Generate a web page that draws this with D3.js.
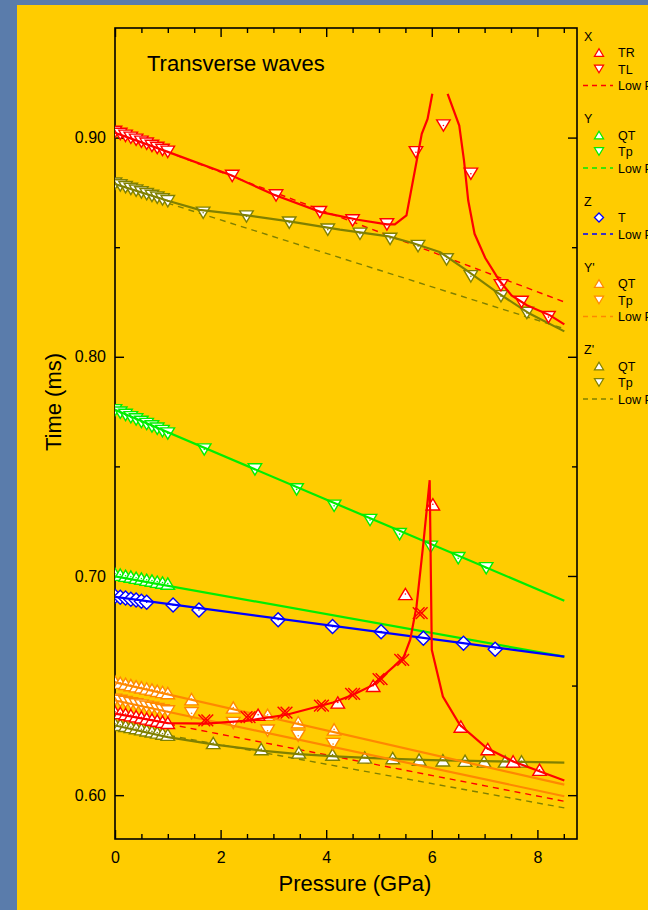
<!DOCTYPE html>
<html>
<head>
<meta charset="utf-8">
<title>Transverse waves</title>
<style>
body { margin:0; background:#5a7cab; }
svg { display:block; font-family:"Liberation Sans", Arial, sans-serif; }
.axis path { display:none; }
.axis line { stroke:#000; stroke-width:1.4; }
.axis text { font-size:16px; fill:#000; font-family:"Liberation Sans", Arial, sans-serif; }
</style>
</head>
<body>
<script src="https://cdn.jsdelivr.net/npm/d3@7"></script>
<script>

// ---- data (pressure GPa, time ms) ----
var pDense = [0, 0.1, 0.2, 0.3, 0.4, 0.5, 0.6, 0.7, 0.8, 0.9, 1.0];

// X
var xTLp = pDense.concat([2.22, 3.05, 3.88, 4.50, 5.15, 5.70, 6.22, 6.74, 7.31, 7.70, 8.21]);
var xTLt = [0.9026, 0.9017, 0.9008, 0.8999, 0.8990, 0.8981, 0.8972, 0.8962, 0.8953, 0.8944, 0.8935, 0.8825, 0.8736, 0.8660, 0.8622, 0.8604, 0.8933, 0.9055, 0.8835, 0.8326, 0.8250, 0.8181];
var xTLfitP = [0, 1.0, 2.2, 3.0, 3.9, 4.6, 5.15, 5.3, 5.52, 5.81, 5.92, 6.01, null, 6.30, 6.52, 6.61, 6.69, 6.81, 7.01, 7.28, 7.51, 7.80, 8.24, 8.51];
var xTLfitT = [0.9022, 0.8935, 0.8828, 0.8740, 0.8660, 0.8625, 0.8604, 0.8604, 0.8645, 0.9017, 0.9085, 0.9200, null, 0.9200, 0.9055, 0.8895, 0.8713, 0.8561, 0.8452, 0.8348, 0.8280, 0.8235, 0.8189, 0.8148];
var xTLlowP = [0, 8.51];
var xTLlowT = [0.9025, 0.8250];

var xTRp = pDense.concat([2.71, 4.22, 4.89, 5.50, 6.02, 6.55, 7.06, 7.54, 8.04]);
var xTRt = [0.6380, 0.6375, 0.6370, 0.6365, 0.6360, 0.6355, 0.6350, 0.6345, 0.6340, 0.6335, 0.6330, 0.6367, 0.6423, 0.6499, 0.6918, 0.7327, 0.6313, 0.6210, 0.6154, 0.6116];
var xTRcrossP = [1.72, 2.52, 3.22, 3.91, 4.50, 5.02, 5.43, 5.78];
var xTRcrossT = [0.6341, 0.6356, 0.6377, 0.6408, 0.6462, 0.6529, 0.6617, 0.6830];
var xTRfitP = [0, 1.0, 1.72, 2.52, 3.25, 4.13, 4.51, 4.89, 5.46, 5.59, 5.71, 5.84, 5.96, 6.0, 6.21, 6.53, 7.04, 7.54, 8.05, 8.51];
var xTRfitT = [0.6372, 0.6329, 0.6326, 0.6340, 0.6367, 0.6423, 0.6458, 0.6503, 0.6625, 0.6708, 0.6860, 0.7149, 0.7437, 0.6663, 0.6450, 0.6321, 0.6215, 0.6154, 0.6108, 0.6067];
var xTRlowP = [0, 8.51];
var xTRlowT = [0.6372, 0.5972];

// Y
var yQTp = pDense;
var yQTt = [0.7010, 0.7006, 0.7001, 0.6997, 0.6992, 0.6988, 0.6983, 0.6979, 0.6974, 0.6970, 0.6965];
var yQTfitP = [0, 8.51];
var yQTfitT = [0.6998, 0.6632];
var yTpP = pDense.concat([1.69, 2.65, 3.44, 4.15, 4.83, 5.39, 5.98, 6.50, 7.03]);
var yTpT = [0.7756, 0.7745, 0.7735, 0.7724, 0.7714, 0.7703, 0.7693, 0.7682, 0.7672, 0.7661, 0.7650, 0.7577, 0.7486, 0.7395, 0.7320, 0.7255, 0.7191, 0.7133, 0.7081, 0.7035];
var yTpFitP = [0, 8.51];
var yTpFitT = [0.7758, 0.6887];

// Z
var zTp = [0, 0.1, 0.2, 0.3, 0.4, 0.5, 0.6, 1.10, 1.59, 3.09, 4.12, 5.04, 5.84, 6.60, 7.20];
var zTt = [0.6908, 0.6903, 0.6899, 0.6894, 0.6890, 0.6885, 0.6880, 0.6868, 0.6845, 0.6800, 0.6769, 0.6746, 0.6716, 0.6693, 0.6666];
var zTfitP = [0, 8.51];
var zTfitT = [0.6905, 0.6632];

// Y'
var ypQTp = pDense.concat([1.45, 2.24, 2.89, 3.47, 4.15]);
var ypQTt = [0.6518, 0.6513, 0.6508, 0.6502, 0.6497, 0.6492, 0.6487, 0.6482, 0.6476, 0.6471, 0.6466, 0.6438, 0.6400, 0.6367, 0.6333, 0.6300];
var ypQTfitP = [0, 8.51];
var ypQTfitT = [0.6515, 0.6048];
var ypTpP = pDense.concat([1.45, 2.24, 2.89, 3.47, 4.13]);
var ypTpT = [0.6435, 0.6430, 0.6425, 0.6419, 0.6414, 0.6409, 0.6403, 0.6398, 0.6393, 0.6387, 0.6382, 0.6374, 0.6329, 0.6294, 0.6271, 0.6233];
var ypTpFitP = [0, 8.51];
var ypTpFitT = [0.6432, 0.5995];

// Z'
var zpQTp = pDense.concat([1.86, 2.77, 3.48, 4.12, 4.73, 5.26, 5.76, 6.21, 6.63, 6.99, 7.39, 7.70]);
var zpQTt = [0.6326, 0.6321, 0.6316, 0.6311, 0.6306, 0.6301, 0.6296, 0.6291, 0.6286, 0.6281, 0.6276, 0.6238, 0.6210, 0.6195, 0.6185, 0.6172, 0.6169, 0.6162, 0.6159, 0.6157, 0.6154, 0.6154, 0.6154];
var zpQTfitP = [0, 1.0, 1.86, 2.77, 3.48, 4.26, 5.0, 6.0, 7.0, 8.51];
var zpQTfitT = [0.6318, 0.6265, 0.6232, 0.6203, 0.6187, 0.6176, 0.6168, 0.6160, 0.6155, 0.6148];
var zpQTlowP = [0, 8.51];
var zpQTlowT = [0.6318, 0.5942];
var zpTpP = pDense.concat([1.67, 2.49, 3.30, 4.03, 4.64, 5.21, 5.74, 6.28, 6.74, 7.31, 7.80]);
var zpTpT = [0.8790, 0.8782, 0.8774, 0.8766, 0.8758, 0.8750, 0.8742, 0.8734, 0.8726, 0.8718, 0.8710, 0.8657, 0.8640, 0.8612, 0.8580, 0.8561, 0.8538, 0.8505, 0.8444, 0.8367, 0.8276, 0.8200];
var zpTpFitP = [0, 1.0, 1.6, 2.5, 3.3, 4.26, 5.18, 5.65, 6.16, 6.66, 7.23, 7.85, 8.51];
var zpTpFitT = [0.8788, 0.8712, 0.8670, 0.8645, 0.8618, 0.8580, 0.8549, 0.8518, 0.8477, 0.8394, 0.8295, 0.8197, 0.8116];
var zpTpLowP = [0, 8.51];
var zpTpLowT = [0.8777, 0.8128];

// axis ticks
var xTicks = [0, 2, 4, 6, 8];
var yTicks = [0.60, 0.70, 0.80, 0.90];

var red = "#ff0000", green = "#00ee00", blue = "#0000ff", orange = "#ff8800", olive = "#808000";

// legend rows: [kind, colour, label]
var legendRows = [
  ["head", null, "X"], ["up", red, "TR"], ["down", red, "TL"], ["dash", red, "Low P"], null,
  ["head", null, "Y"], ["up", green, "QT"], ["down", green, "Tp"], ["dash", green, "Low P"], null,
  ["head", null, "Z"], ["diamond", blue, "T"], ["dash", blue, "Low P"], null,
  ["head", null, "Y'"], ["up", orange, "QT"], ["down", orange, "Tp"], ["dash", orange, "Low P"], null,
  ["head", null, "Z'"], ["up", olive, "QT"], ["down", olive, "Tp"], ["dash", olive, "Low P"]
];

function zip(a, b) { return a.map(function(v, i) { return [v, b[i]]; }); }

// ---- layout ----
var W = 648, H = 910;
var pl = 115, pr = 577, pt = 28, pb = 839; // plot frame

var xScale = d3.scaleLinear().domain([0, 8.75]).range([pl, pr]);
var yScale = d3.scaleLinear().domain([0.58, 0.95]).range([pb, pt]);

var svg = d3.select("body").append("svg").attr("width", W).attr("height", H);

svg.append("rect").attr("x", 0).attr("y", 0).attr("width", W).attr("height", H).attr("fill", "#5a7cab");
svg.append("rect").attr("x", 17).attr("y", 5).attr("width", W - 17).attr("height", H - 5).attr("fill", "#ffcc00");

svg.append("clipPath").attr("id", "plotclip")
  .append("rect").attr("x", pl).attr("y", pt).attr("width", pr - pl).attr("height", pb - pt);

// ---- axes ----
var minorX = d3.range(0.5, 8.75, 0.5).filter(function(d) { return d % 2 !== 0; });
var minorY = [0.65, 0.75, 0.85];

svg.append("g").attr("class", "axis").attr("transform", "translate(0," + pb + ")")
  .call(d3.axisBottom(xScale).tickValues(xTicks).tickSizeInner(-9).tickSizeOuter(0).tickPadding(13).tickFormat(d3.format("d")));
svg.append("g").attr("class", "axis").attr("transform", "translate(0," + pb + ")")
  .call(d3.axisBottom(xScale).tickValues(minorX).tickSizeInner(-5).tickSizeOuter(0).tickFormat(""));
svg.append("g").attr("class", "axis").attr("transform", "translate(0," + pt + ")")
  .call(d3.axisTop(xScale).tickValues(xTicks).tickSizeInner(-9).tickSizeOuter(0).tickFormat(""));
svg.append("g").attr("class", "axis").attr("transform", "translate(0," + pt + ")")
  .call(d3.axisTop(xScale).tickValues(minorX).tickSizeInner(-5).tickSizeOuter(0).tickFormat(""));

svg.append("g").attr("class", "axis").attr("transform", "translate(" + pl + ",0)")
  .call(d3.axisLeft(yScale).tickValues(yTicks).tickSizeInner(-9).tickSizeOuter(0).tickPadding(9).tickFormat(d3.format(".2f")));
svg.append("g").attr("class", "axis").attr("transform", "translate(" + pl + ",0)")
  .call(d3.axisLeft(yScale).tickValues(minorY).tickSizeInner(-5).tickSizeOuter(0).tickFormat(""));
svg.append("g").attr("class", "axis").attr("transform", "translate(" + pr + ",0)")
  .call(d3.axisRight(yScale).tickValues(yTicks).tickSizeInner(-9).tickSizeOuter(0).tickFormat(""));
svg.append("g").attr("class", "axis").attr("transform", "translate(" + pr + ",0)")
  .call(d3.axisRight(yScale).tickValues(minorY).tickSizeInner(-5).tickSizeOuter(0).tickFormat(""));

svg.append("rect").attr("x", pl).attr("y", pt).attr("width", pr - pl).attr("height", pb - pt)
  .attr("fill", "none").attr("stroke", "#000").attr("stroke-width", 1.6);

// ---- marks ----
var plot = svg.append("g").attr("clip-path", "url(#plotclip)");

var line = d3.line()
  .defined(function(d) { return d[0] != null && d[1] != null; })
  .x(function(d) { return xScale(d[0]); })
  .y(function(d) { return yScale(d[1]); });

// s = symbol width in px
function symbolPath(kind, s) {
  var w = s / 2, h = s * 0.42;
  if (kind == "up") return "M0," + (-h) + "L" + w + "," + h + "L" + (-w) + "," + h + "Z";
  if (kind == "down") return "M0," + h + "L" + w + "," + (-h) + "L" + (-w) + "," + (-h) + "Z";
  if (kind == "diamond") return "M0," + (-w) + "L" + w + ",0L0," + w + "L" + (-w) + ",0Z";
  if (kind == "cross") {
    var a = s * 0.42, b = s * 0.42, o = 1.5;
    return "M" + (-a - o) + "," + (-b) + "L" + (a - o) + "," + b + "M" + (-a - o) + "," + b + "L" + (a - o) + "," + (-b) +
           "M" + (-a + o) + "," + (-b) + "L" + (a + o) + "," + b + "M" + (-a + o) + "," + b + "L" + (a + o) + "," + (-b);
  }
}

function drawLine(ps, ts, color, dashed) {
  plot.append("path").datum(zip(ps, ts))
    .attr("d", line)
    .attr("fill", "none")
    .attr("stroke", color)
    .attr("stroke-width", dashed ? 1.4 : 2.2)
    .attr("stroke-dasharray", dashed ? "6,5" : null);
}

function drawMarkers(ps, ts, kind, color) {
  var g = plot.append("g");
  var m = g.selectAll("g").data(zip(ps, ts)).enter().append("g")
    .attr("transform", function(d) { return "translate(" + xScale(d[0]) + "," + yScale(d[1]) + ")"; });
  m.append("path")
    .attr("d", symbolPath(kind, kind == "diamond" ? 14 : kind == "cross" ? 14 : 13.5))
    .attr("fill", kind == "cross" ? "none" : "#fff")
    .attr("stroke", color)
    .attr("stroke-width", 1.4);
  if (kind != "cross") {
    m.append("circle").attr("r", 0.8).attr("fill", color);
  }
}

// dashed low-pressure fits first
drawLine(zpTpLowP, zpTpLowT, olive, true);
drawLine(zpQTlowP, zpQTlowT, olive, true);
drawLine(xTLlowP, xTLlowT, red, true);
drawLine(xTRlowP, xTRlowT, red, true);

// Z'
drawMarkers(zpTpP, zpTpT, "down", olive);
drawLine(zpTpFitP, zpTpFitT, olive, false);
drawMarkers(zpQTp, zpQTt, "up", olive);
drawLine(zpQTfitP, zpQTfitT, olive, false);

// Y'
drawMarkers(ypQTp, ypQTt, "up", orange);
drawLine(ypQTfitP, ypQTfitT, orange, false);
drawMarkers(ypTpP, ypTpT, "down", orange);
drawLine(ypTpFitP, ypTpFitT, orange, false);

// Y
drawMarkers(yTpP, yTpT, "down", green);
drawLine(yTpFitP, yTpFitT, green, false);
drawMarkers(yQTp, yQTt, "up", green);
drawLine(yQTfitP, yQTfitT, green, false);

// Z
drawMarkers(zTp, zTt, "diamond", blue);
drawLine(zTfitP, zTfitT, blue, false);

// X
drawMarkers(xTLp, xTLt, "down", red);
drawLine(xTLfitP, xTLfitT, red, false);
drawMarkers(xTRp, xTRt, "up", red);
drawMarkers(xTRcrossP, xTRcrossT, "cross", red);
drawLine(xTRfitP, xTRfitT, red, false);

// ---- text ----
svg.append("text").attr("x", 147).attr("y", 71).attr("font-size", "22px").text("Transverse waves");
svg.append("text").attr("x", 355).attr("y", 891).attr("font-size", "22px").attr("text-anchor", "middle").text("Pressure (GPa)");
svg.append("text").attr("transform", "translate(61,402) rotate(-90)").attr("font-size", "22px")
  .attr("text-anchor", "middle").text("Time (ms)");

// ---- legend ----
var leg = svg.append("g").attr("transform", "translate(583,36)");
legendRows.forEach(function(r, i) {
  if (!r) return;
  var y = i * 16.5;
  if (r[0] == "head") {
    leg.append("text").attr("x", 1).attr("y", y + 4.5).attr("font-size", "12.5px").text(r[2]);
    return;
  }
  if (r[0] == "dash") {
    leg.append("line").attr("x1", 0).attr("x2", 30).attr("y1", y).attr("y2", y)
      .attr("stroke", r[1]).attr("stroke-width", 1.3).attr("stroke-dasharray", "5,4");
  } else {
    leg.append("path").attr("transform", "translate(16," + y + ")")
      .attr("d", symbolPath(r[0], 9)).attr("fill", "#fff").attr("stroke", r[1]).attr("stroke-width", 1.3);
  }
  leg.append("text").attr("x", 35).attr("y", y + 4.5).attr("font-size", "12.5px").text(r[2]);
});

</script>
</body>
</html>
